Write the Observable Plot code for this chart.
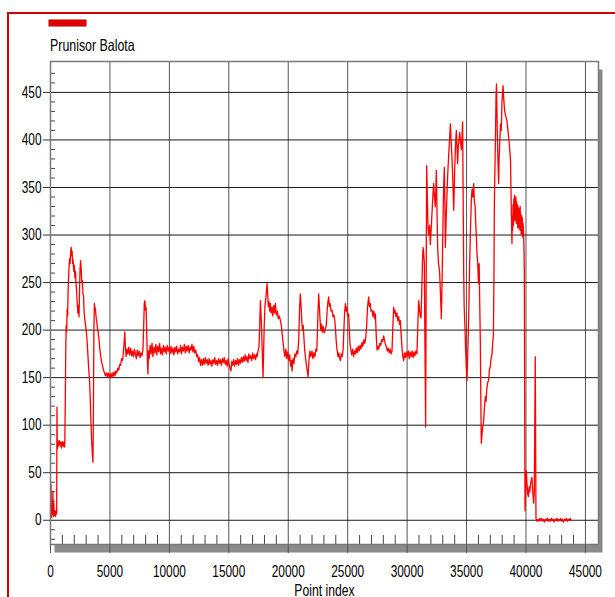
<!DOCTYPE html>
<html><head><meta charset="utf-8">
<script src="https://cdn.jsdelivr.net/npm/d3@7"></script>
<script src="https://cdn.jsdelivr.net/npm/@observablehq/plot@0.6"></script>
<style>
body{margin:0;background:#fff;}
#wrap{position:relative;width:615px;height:597px;overflow:hidden;background:#fff;font-family:"Liberation Sans",Arial,sans-serif;}
#chart{position:absolute;left:0;top:0;}
#border{position:absolute;left:7px;top:12px;width:700px;height:700px;border:2px solid #d00000;box-sizing:border-box;}
#swatch{position:absolute;left:49px;top:20px;width:37px;height:6px;background:#e00000;box-shadow:0 0 0 0.5px #900;}
#legtext{position:absolute;left:50px;top:37px;font-size:16.5px;line-height:17px;color:#000;white-space:nowrap;transform:scaleX(0.75);transform-origin:0 0;}
</style>
</head><body>
<div id="wrap">
  <div id="chart"></div>
  <div id="swatch"></div>
  <div id="legtext"></div>
  <div id="border"></div>
</div>
<script>
// ---- data ----
const seriesName = "Prunisor Balota";
const xLabel = "Point index";
const xTicks = [0,5000,10000,15000,20000,25000,30000,35000,40000,45000];
const yTicks = [0,50,100,150,200,250,300,350,400,450];
const xMinorTicks = [1000,2000,3000,4000,6000,7000,8000,9000,11000,12000,13000,14000,16000,17000,18000,19000,21000,22000,23000,24000,26000,27000,28000,29000,31000,32000,33000,34000,36000,37000,38000,39000,41000,42000,43000,44000];
const yMinorTicks = [-20,-10,10,20,30,40,60,70,80,90,110,120,130,140,160,170,180,190,210,220,230,240,260,270,280,290,310,320,330,340,360,370,380,390,410,420,430,440,460,470];
const xDomain = [0,46100];
const yDomain = [-25.5,482.5];

// [point index, value]
const samples = [
[0,5],[40,38],[80,3],[120,12],[160,6],[200,30],[240,4],[280,18],[320,5],[360,9],[400,4],[440,10],[480,6],[520,8],[545,119],[570,75],[620,83],[680,78],[740,84],[800,79],[860,82],[920,76],[980,83],[1040,78],[1100,82],[1160,77],[1200,80],[1240,120],[1280,175],[1320,205],[1360,198],[1400,222],[1440,215],[1490,245],[1540,262],[1600,275],[1650,270],[1700,283],[1740,287],[1780,278],[1820,283],[1860,270],[1900,274],[1950,262],[2000,268],[2050,255],[2100,262],[2150,248],[2200,240],[2250,228],[2300,218],[2350,226],[2400,214],[2440,240],[2480,262],[2530,273],[2580,265],[2630,250],[2680,252],[2730,238],[2780,236],[2830,218],[2880,212],[2940,206],[3000,200],[3060,192],[3120,180],[3200,162],[3280,148],[3340,130],[3400,105],[3460,85],[3520,70],[3570,61],[3610,110],[3650,200],[3690,228],[3730,224],[3780,222],[3840,213],[3900,208],[3960,201],[4020,197],[4080,190],[4150,180],[4230,172],[4310,166],[4390,162],[4460,158],[4540,155],[4620,152],[4700,155],[4780,151],[4860,155],[4940,150],[5020,154],[5100,150],[5180,155],[5260,151],[5340,156],[5420,152],[5500,157],[5580,155],[5660,160],[5740,158],[5820,164],[5900,163],[5980,170],[6060,168],[6140,178],[6200,188],[6250,198],[6300,182],[6360,172],[6430,180],[6500,175],[6580,182],[6660,174],[6740,181],[6820,173],[6900,178],[6980,172],[7060,180],[7140,175],[7220,170],[7300,179],[7380,173],[7460,178],[7540,171],[7620,176],[7700,173],[7780,180],[7840,205],[7890,228],[7940,231],[7990,221],[8040,224],[8080,205],[8120,185],[8160,165],[8200,154],[8240,178],[8300,170],[8380,184],
[8460,175],[8540,186],[8620,172],[8700,182],[8780,176],[8860,185],[8940,174],[9020,183],[9100,177],[9180,186],[9260,175],[9340,181],[9420,174],[9500,184],[9580,177],[9660,182],[9740,175],[9820,184],[9900,178],[9980,182],[10060,175],[10140,183],[10220,176],[10300,181],[10380,174],[10460,182],[10540,177],[10620,183],[10700,175],[10780,180],[10860,177],[10940,184],[11020,175],[11100,182],[11180,178],[11260,185],[11340,176],[11420,183],[11500,178],[11580,184],[11660,176],[11740,182],[11820,179],[11900,185],[11980,177],[12060,183],[12140,176],[12220,179],[12300,172],[12380,174],[12460,167],[12540,171],[12620,163],[12700,169],[12780,163],[12860,170],[12940,164],[13020,171],[13100,165],[13180,169],[13260,163],[13340,170],[13420,164],[13500,168],[13580,162],[13660,169],[13740,165],[13820,171],[13900,164],[13980,168],[14060,163],[14140,170],[14220,165],[14300,169],[14380,163],[14460,170],[14540,166],[14620,171],[14700,164],[14780,168],[14860,162],[14940,170],[15020,165],[15100,160],[15180,157],[15250,167],[15330,163],[15410,169],[15490,162],[15570,168],[15650,164],[15730,170],[15810,163],[15890,169],[15970,165],[16050,171],[16130,166],[16210,172],[16290,167],[16370,174],[16450,168],[16530,172],[16610,166],[16690,175],[16770,170],[16850,173],[16930,168],[17010,176],[17090,170],[17170,174],[17250,169],[17320,175],[17380,172],[17460,178],[17540,182],
[17600,205],[17660,231],[17700,220],[17760,200],[17820,175],[17880,150],[17920,172],[17980,205],[18040,225],[18100,232],[18160,240],[18220,249],[18270,238],[18320,225],[18380,230],[18440,220],[18500,228],[18560,218],[18640,224],[18700,215],[18780,226],[18860,218],[18920,228],[19000,216],[19080,220],[19160,212],[19240,215],[19340,210],[19420,205],[19500,195],[19580,185],[19640,178],[19720,172],[19800,180],[19880,170],[19960,177],[20040,168],[20120,174],[20200,162],[20280,168],[20320,157],[20400,170],[20480,165],[20560,175],[20640,172],[20720,178],[20800,175],[20880,190],[20960,225],[21020,238],[21080,225],[21140,210],[21200,200],[21260,205],[21300,196],[21380,180],[21460,170],[21540,162],[21620,155],[21670,151],[21740,168],[21820,178],[21900,172],[22000,178],[22080,170],[22160,176],[22240,172],[22320,180],[22400,178],[22460,200],[22520,225],[22560,238],[22620,225],[22680,210],[22740,200],[22800,206],[22860,198],[22940,204],[23020,197],[23120,201],[23200,205],[23260,218],[23320,228],[23400,235],[23460,225],[23520,228],[23600,220],[23690,221],[23760,214],[23840,216],[23920,210],[23980,200],[24040,188],[24110,179],[24180,172],[24260,176],[24330,170],[24390,168],[24460,175],[24540,172],[24620,180],[24680,200],[24740,218],[24810,228],[24870,220],[24940,224],[25000,215],[25080,217],[25140,200],[25200,185],[25260,180],[25340,174],[25420,180],[25500,172],[25580,178],[25650,175],[25720,181],[25800,176],[25880,183],[25960,178],[26040,184],[26120,180],[26200,187],[26280,183],[26360,190],[26440,186],[26520,192],[26600,205],[26660,222],[26720,230],[26770,235],[26830,225],[26900,228],[26960,220],[27050,221],[27120,214],[27200,220],[27280,212],[27330,217],[27400,195],[27470,179],[27540,183],[27620,180],[27700,186],[27780,184],[27860,190],[27940,188],[28030,194],[28100,189],[28180,185],[28260,182],[28340,178],[28420,181],[28500,176],[28580,180],[28660,175],[28730,178],[28790,200],[28840,215],[28870,224],[28920,218],[28980,221],[29060,214],[29140,218],[29220,210],[29300,214],[29360,206],[29430,210],[29500,195],[29580,180],[29640,172],[29710,168],[29780,176],[29860,171],[29940,177],[30020,172],[30100,178],[30180,170],[30260,177],[30340,172],[30420,178],[30500,171],[30580,177],[30660,173],[30740,178],[30830,175],[30900,205],[30970,231],[31040,222],[31100,215],[31170,213],[31230,240],[31290,270],[31340,287],[31400,280],[31450,270],[31490,200],[31530,140],[31560,98],[31600,240],[31645,373],[31700,340],[31760,308],[31820,300],[31890,310],[31950,290],[32020,305],[32100,325],[32160,340],[32230,354],[32300,340],[32370,330],[32420,350],[32460,368],[32520,320],[32570,287],[32640,270],[32700,265],[32740,259],[32800,240],[32880,212],[32940,250],[33020,315],[33070,350],[33130,371],[33180,330],[33220,287],[33290,320],[33360,345],[33420,365],[33500,385],[33570,400],[33640,417],[33700,400],[33780,380],[33850,355],[33920,326],[33960,345],[34000,368],[34070,395],[34140,410],[34200,390],[34250,375],[34310,395],[34370,400],[34420,408],[34490,398],[34560,390],[34620,405],[34670,419],
[34720,330],[34760,260],[34800,225],[34860,205],[34920,180],[34980,160],[35040,147],[35100,175],[35180,214],[35260,270],[35320,301],[35400,336],[35460,348],[35520,340],[35600,354],[35660,335],[35720,330],[35780,310],[35820,301],[35880,280],[35940,270],[36000,249],[36060,270],[36120,220],[36160,186],[36200,130],[36240,81],[36300,90],[36360,98],[36440,105],[36500,118],[36580,130],[36640,125],[36700,138],[36780,145],[36860,147],[36920,158],[37000,162],[37060,170],[37140,175],[37200,186],[37260,196],[37300,250],[37340,333],[37400,380],[37440,410],[37480,445],[37520,459],[37560,430],[37600,400],[37660,370],[37700,354],[37740,380],[37800,400],[37860,417],[37920,410],[37980,440],[38030,450],[38070,457],[38120,445],[38180,434],[38240,428],[38300,425],[38400,420],[38480,410],[38560,400],[38620,392],[38700,378],[38760,330],[38820,291],[38850,320],[38880,305],[38910,332],[38940,310],[38970,338],[39000,318],[39030,342],[39060,315],[39090,336],[39120,320],[39150,340],[39180,312],[39210,335],[39240,318],[39270,332],[39300,308],[39330,330],[39360,314],[39390,328],[39420,306],[39450,325],[39480,310],[39510,330],[39540,305],[39570,322],[39600,300],[39630,320],[39660,302],[39690,318],[39720,298],[39760,312],[39800,301],[39840,280],[39860,263],[39890,120],[39920,10],[39970,30],[40030,52],[40080,40],[40140,28],[40200,25],[40260,35],[40320,30],[40380,38],[40440,42],[40500,45],[40560,32],[40600,25],[40640,18],[40700,30],[40780,172],[40820,60],[40840,2],
[40920,-1],[41000,1],[41080,-1],[41160,2],[41240,0],[41320,2],[41400,-1],[41480,1],[41560,-2],[41640,1],[41720,0],[41800,2],[41880,-1],[41960,1],[42040,-1],[42120,2],[42200,0],[42280,1],[42360,-2],[42440,1],[42520,0],[42600,2],[42680,-1],[42760,1],[42840,0],[42920,2],[43000,-1],[43080,1],[43160,-2],[43240,1],[43320,0],[43400,2],[43480,-1],[43560,1],[43640,0],[43720,2],[43800,0]
];

const table = samples.map(([i, v]) => ({i, v}));
const font = '"Liberation Sans",Arial,sans-serif';

const chart = Plot.plot({
  width: 615, height: 597,
  marginLeft: 50, marginRight: 17, marginTop: 61, marginBottom: 53,
  x: {domain: xDomain},
  y: {domain: yDomain},
  style: {fontFamily: font, fontSize: "16px", background: "transparent", color: "#000"},
  marks: [
    Plot.frame({fill: "#8a8a8a", stroke: null, dx: 4, dy: 8}),
    Plot.frame({fill: "white", stroke: null}),
    Plot.gridX(xTicks, {stroke: "#555", strokeOpacity: 1}),
    Plot.gridY(yTicks, {stroke: "#1a1a1a", strokeOpacity: 1}),
    Plot.ruleX(xMinorTicks, {x: d => d, y1: yDomain[0], y2: yDomain[0] + 9.5, stroke: "#444"}),
    Plot.ruleY(yMinorTicks, {y: d => d, x1: xDomain[0], x2: xDomain[0] + 420, stroke: "#444"}),
    Plot.line(table, {x: "i", y: "v", stroke: "#ff0000", strokeWidth: 1.3}),
    Plot.frame({stroke: "#7a7a7a", strokeWidth: 1.5}),
    Plot.axisX(xTicks, {tickSize: 9, tickPadding: 12, stroke: "#555", tickFormat: d => String(d), label: null}),
    Plot.axisY(yTicks, {tickSize: 7, tickPadding: 2, stroke: "#333", tickFormat: d => String(d), label: null}),
    Plot.text([xLabel], {text: d => d, frameAnchor: "bottom", dy: 51, lineAnchor: "bottom", fontSize: 16.5})
  ]
});
document.getElementById("chart").appendChild(chart);
document.getElementById("legtext").textContent = seriesName;

// condense the text glyphs horizontally (the reference uses a narrow face)
chart.querySelectorAll("text").forEach(t => {
  const w = t.getComputedTextLength();
  if (w > 0) {
    t.setAttribute("textLength", (w * 0.74).toFixed(2));
    t.setAttribute("lengthAdjust", "spacingAndGlyphs");
  }
});
</script>
</body></html>
